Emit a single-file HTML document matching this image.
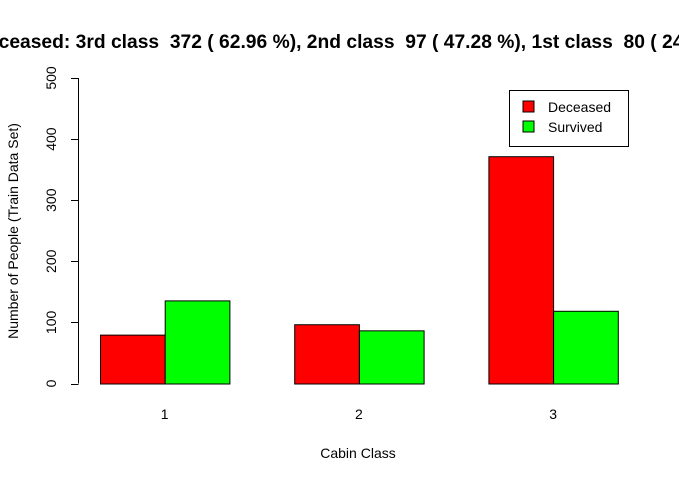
<!DOCTYPE html>
<html><head><meta charset="utf-8"><style>
html,body{margin:0;padding:0;background:#fff;}
svg{display:block;font-family:"Liberation Sans",Arial,sans-serif;}
</style></head><body>
<svg id="chart" width="679" height="482" viewBox="0 0 679 482">
<text x="-26" y="48" font-size="19.25" font-weight="bold" fill="#000" style="white-space:pre" xml:space="preserve">Deceased: 3rd class  372 ( 62.96 %), 2nd class  97 ( 47.28 %), 1st class  80 ( 24.69 %)</text>
<g id="bars"></g>
<g id="yaxis"></g>
<g id="xlabels"></g>
<text x="358" y="458" font-size="14" text-anchor="middle" fill="#000">Cabin Class</text>
<text transform="translate(18,231) rotate(-90)" font-size="14" text-anchor="middle" fill="#000">Number of People (Train Data Set)</text>
<g>
<rect x="509.5" y="90.5" width="119" height="56" fill="#fff" stroke="#000"/>
<rect x="523" y="101" width="11" height="11" fill="#ff0000" stroke="#000"/>
<text x="548" y="112" font-size="14">Deceased</text>
<rect x="523" y="121" width="11" height="11" fill="#00ff00" stroke="#000"/>
<text x="548" y="132" font-size="14">Survived</text>
</g>
</svg>
<script>
const categories = ["1","2","3"];
const deceased = [80, 97, 372];
const survived = [136, 87, 119];
const yTicks = [0,100,200,300,400,500];
const NS="http://www.w3.org/2000/svg";
function y(v){return 383.5 - v*(305.5/500);}
function groupX(i){return 100 + i*194.2;}
const barW=64.7;
function mk(tag,attrs,parent){const e=document.createElementNS(NS,tag);for(const k in attrs)e.setAttribute(k,attrs[k]);parent.appendChild(e);return e;}
const bars=document.getElementById('bars');
categories.forEach((c,i)=>{
  const x0=groupX(i);
  const r=mk('rect',{x:x0+0.5,y:y(deceased[i])+0.5,width:barW,height:y(0)-y(deceased[i]),fill:'#ff0000',stroke:'#000'},bars);
  
  
  const g=mk('rect',{x:x0+barW+0.5,y:y(survived[i])+0.5,width:barW,height:y(0)-y(survived[i]),fill:'#00ff00',stroke:'#000'},bars);
  
  
  const t=mk('text',{x:x0+barW,y:419,'font-size':14,'text-anchor':'middle'},document.getElementById('xlabels'));
  t.textContent=c;
  
  
});
const ya=document.getElementById('yaxis');
const ax=mk('line',{x1:78.5,x2:78.5,y1:y(yTicks[yTicks.length-1]),y2:y(0),stroke:'#000'},ya);


yTicks.forEach(v=>{
  mk('line',{x1:71,x2:78.5,y1:Math.round(y(v))+0.5,y2:Math.round(y(v))+0.5,stroke:'#000'},ya);
  const t=mk('text',{transform:`translate(56,${y(v)}) rotate(-90)`,'font-size':14,'text-anchor':'middle'},ya);
  t.textContent=v;
  
  
});
</script>
</body></html>
